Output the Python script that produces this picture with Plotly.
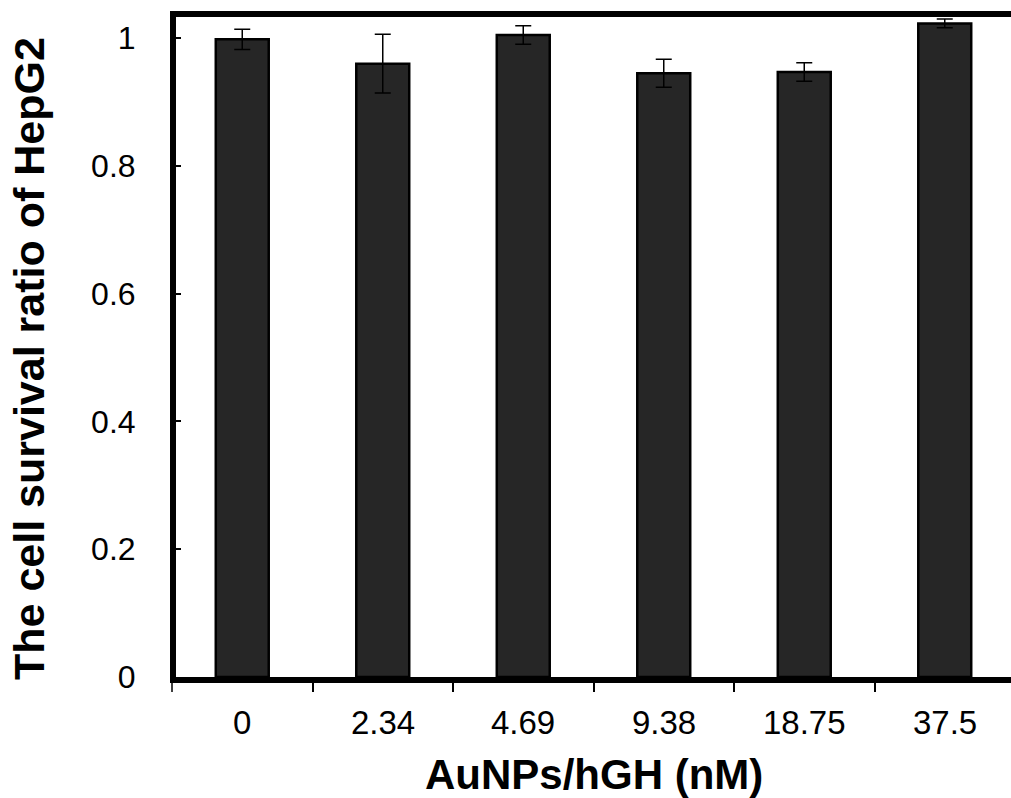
import plotly.graph_objects as go

categories = ["0", "2.34", "4.69", "9.38", "18.75", "37.5"]
survival = [0.998, 0.960, 1.005, 0.945, 0.947, 1.023]
errors = [0.016, 0.046, 0.0145, 0.022, 0.0145, 0.007]
y_ticks = [0, 0.2, 0.4, 0.6, 0.8, 1.0]
y_tick_text = ["0", "0.2", "0.4", "0.6", "0.8", "1"]
x_title = "AuNPs/hGH (nM)"
y_title = "The cell survival ratio of HepG2"

W, H = 1011, 798
L, R, T, B = 176, 0, 17, 121
plot_w = W - L - R
plot_h = H - T - B
spacing = 140.5
x0 = -0.5 + 4 / spacing
x1 = x0 + plot_w / spacing

fig = go.Figure()
fig.add_trace(go.Bar(
    x=list(range(len(categories))),
    y=survival,
    width=0.377,
    marker=dict(color="#262626", line=dict(color="#000000", width=2.5)),
    error_y=dict(type="data", array=errors, visible=True, color="#000000",
                 thickness=1.5, width=8),
))

fig.update_layout(
    width=W, height=H,
    margin=dict(l=L, r=R, t=T, b=B, pad=0),
    paper_bgcolor="white", plot_bgcolor="white",
    showlegend=False,
    font=dict(family="Liberation Sans, Arial, sans-serif", color="black"),
)

fig.update_xaxes(
    range=[x0, x1],
    tickmode="array",
    tickvals=[i + 0.5 for i in range(-1, len(categories))],
    ticktext=[""] * (len(categories) + 1),
    ticks="outside", ticklen=9, tickwidth=1.5, tickcolor="black",
    showline=True, linewidth=6, linecolor="black", mirror=True,
    showgrid=False, zeroline=False,
)

# category labels placed at the category positions on the x axis
for i, c in enumerate(categories):
    fig.add_annotation(x=i, xref="x", y=(677 - 722) / plot_h, yref="paper", text=c,
                       showarrow=False, font=dict(size=33), yanchor="middle")

# axis titles
fig.add_annotation(x=0.5, xref="paper", y=(677 - 774) / plot_h, yref="paper",
                   text="<b>%s</b>" % x_title, showarrow=False,
                   font=dict(size=42), xanchor="center", yanchor="middle")
fig.add_annotation(x=(29 - L) / plot_w, xref="paper", y=(677 - 359) / plot_h, yref="paper",
                   text="<b>%s</b>" % y_title, showarrow=False, textangle=-90,
                   font=dict(size=43), xanchor="center", yanchor="middle")

fig.update_yaxes(
    range=[0, 1.033],
    tickmode="array", tickvals=y_ticks, ticktext=y_tick_text,
    ticks="inside", ticklen=5, tickwidth=1.5, tickcolor="black",
    tickfont=dict(size=32),
    ticklabelstandoff=28,
    showline=True, linewidth=6, linecolor="black", mirror=False,
    showgrid=False, zeroline=False,
)

# leftmost boundary tick below the frame
fig.add_shape(type="line", xref="paper", yref="paper",
              x0=-4 / plot_w, x1=-4 / plot_w, y0=-6 / plot_h, y1=-15 / plot_h,
              line=dict(color="black", width=1.5))

fig.write_html("out.html")
